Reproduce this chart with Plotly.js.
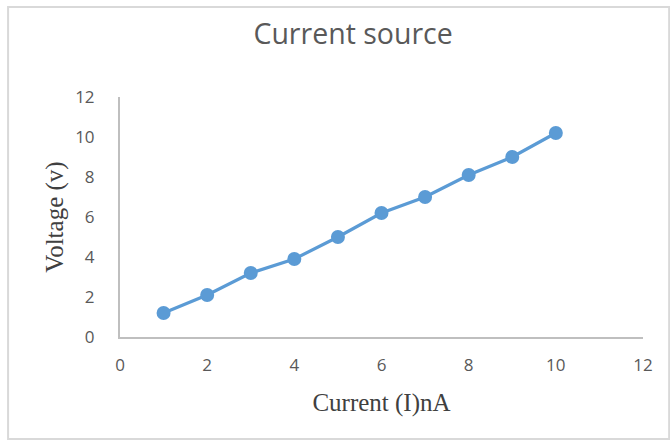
<!DOCTYPE html>
<html>
<head>
<meta charset="utf-8">
<script src="https://cdn.plot.ly/plotly-3.0.1.min.js"></script>
<style>
html,body{margin:0;padding:0;background:#fff;}
#chart{width:670px;height:440px;}
</style>
</head>
<body>
<div id="chart"></div>
<script>
const currentNA = [1, 2, 3, 4, 5, 6, 7, 8, 9, 10];
const voltageV = [1.2, 2.1, 3.2, 3.9, 5.0, 6.2, 7.0, 8.1, 9.0, 10.2];
const xTicks = [0, 2, 4, 6, 8, 10, 12];
const yTicks = [0, 2, 4, 6, 8, 10, 12];

const trace = {
  x: currentNA,
  y: voltageV,
  type: 'scatter',
  mode: 'lines+markers',
  line: {color: '#5b9bd5', width: 3.2},
  marker: {color: '#5b9bd5', size: 14},
  hoverinfo: 'skip'
};

const tickFont = {family: '"Open Sans", Lato, sans-serif', size: 17, color: '#595959'};
const axTitleFont = {family: '"Liberation Serif", "Times New Roman", serif', size: 25, color: '#404040'};

const layout = {
  width: 670,
  height: 440,
  margin: {l: 120, r: 27, t: 97, b: 103},
  paper_bgcolor: '#ffffff',
  plot_bgcolor: '#ffffff',
  showlegend: false,
  title: {
    text: 'Current source',
    x: 0.527, xanchor: 'center', xref: 'container',
    y: 0.922, yanchor: 'middle', yref: 'container',
    font: {family: '"Open Sans", Lato, sans-serif', size: 28.5, color: '#595959'}
  },
  xaxis: {
    range: [0, 12],
    tickvals: xTicks,
    ticktext: xTicks.map(String),
    showgrid: false,
    zeroline: false,
    showline: true,
    linecolor: '#bfbfbf',
    linewidth: 2,
    ticks: '',
    ticklabelstandoff: 12,
    tickfont: tickFont,
    title: {
      text: 'Current (I)nA',
      standoff: 18,
      font: axTitleFont
    },
    fixedrange: true
  },
  yaxis: {
    range: [0, 12],
    tickvals: yTicks,
    ticktext: yTicks.map(String),
    showgrid: false,
    zeroline: false,
    showline: true,
    linecolor: '#bfbfbf',
    linewidth: 2,
    ticks: '',
    ticklabelstandoff: 20,
    tickfont: tickFont,
    title: {
      text: 'Voltage (v)',
      standoff: 4,
      font: axTitleFont
    },
    fixedrange: true
  },
  shapes: [{
    type: 'rect',
    xref: 'paper', yref: 'paper',
    x0: -0.214, x1: 1.05,
    y0: -0.425, y1: 1.375,
    line: {color: '#d9d9d9', width: 2},
    fillcolor: 'rgba(0,0,0,0)',
    layer: 'below'
  }]
};

Plotly.newPlot('chart', [trace], layout, {displayModeBar: false, staticPlot: true});
</script>
</body>
</html>
